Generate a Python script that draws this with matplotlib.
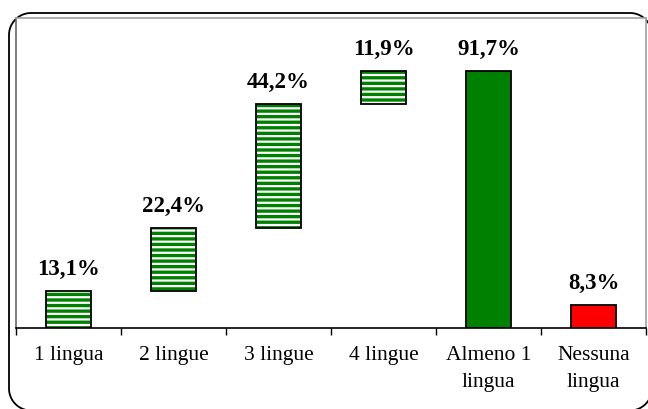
import numpy as np
import matplotlib
matplotlib.use("Agg")
import matplotlib.pyplot as plt
from matplotlib.lines import Line2D

categories = ["1 lingua", "2 lingue", "3 lingue", "4 lingue", "Almeno 1\nlingua", "Nessuna\nlingua"]
steps = [13.1, 22.4, 44.2, 11.9]          # languages known: stacked steps
total_at_least_one = 91.7
none_value = 8.3
value_labels = ["13,1%", "22,4%", "44,2%", "11,9%", "91,7%", "8,3%"]

GREEN = "#008000"
RED = "#FF0000"

plt.rcParams["font.family"] = ["Liberation Serif", "DejaVu Serif"]
plt.rcParams["hatch.linewidth"] = 1.6

fig = plt.figure(figsize=(6.48, 4.09), dpi=100)
ax = fig.add_axes([16 / 648, 1 - 328 / 409, 630 / 648, 310 / 409])

x = np.arange(len(categories))
width = 0.43

bottoms = np.concatenate([[0], np.cumsum(steps)[:-1]])
# striped step bars: green fill with white horizontal stripes
ax.bar(x[:4], steps, width, bottom=bottoms, color=GREEN, edgecolor="white",
       hatch="---", linewidth=0, zorder=2)
ax.bar(x[:4], steps, width, bottom=bottoms, facecolor="none", edgecolor="black",
       linewidth=1.3, zorder=3)
# total and remainder
ax.bar(x[4], total_at_least_one, width, color=GREEN, edgecolor="black", linewidth=1.3, zorder=3)
ax.bar(x[5], none_value, width, color=RED, edgecolor="black", linewidth=1.3, zorder=3)

tops = list(bottoms + np.array(steps)) + [total_at_least_one, none_value]
for xi, top, lab in zip(x, tops, value_labels):
    ax.annotate(lab, (xi, top), xytext=(0, 8), textcoords="offset points",
                ha="center", va="bottom", fontsize=16.5, fontweight="bold")

ax.set_xlim(-0.5, len(categories) - 0.5)
ax.set_ylim(0, 110.5)
ax.set_yticks([])

ax.set_xticks(np.arange(-0.5, len(categories)), labels=[""] * (len(categories) + 1))
ax.set_xticks(x, labels=categories, minor=True)
ax.tick_params(axis="x", which="major", length=5, width=1, color="black", direction="out")
ax.tick_params(axis="x", which="minor", length=0, pad=13, labelsize=15.5)
for lbl in ax.get_xticklabels(minor=True):
    lbl.set_linespacing(1.55)
    lbl.set_verticalalignment("top")

ax.spines["bottom"].set_color("black")
ax.spines["bottom"].set_linewidth(1.2)
ax.spines["left"].set_color("#666666")
ax.spines["top"].set_color("#a0a0a0")
ax.spines["right"].set_color("#a0a0a0")
for s in ["left", "top", "right"]:
    ax.spines[s].set_linewidth(1.2)


def rounded_rect(x0, y0, x1, y1, r, n=24):
    """Closed polyline of a rounded rectangle (corner arcs as line segments)."""
    pts = []
    corners = [(x1 - r, y0 + r, -90), (x1 - r, y1 - r, 0),
               (x0 + r, y1 - r, 90), (x0 + r, y0 + r, 180)]
    for cx, cy, start in corners:
        a = np.radians(np.linspace(start, start + 90, n))
        pts.extend(zip(cx + r * np.cos(a), cy + r * np.sin(a)))
    pts.append(pts[0])
    return np.array(pts)


# rounded outer frame, laid out in inches
fr = rounded_rect(0.09, -0.015, 6.52, 3.96, 0.22)
fig.add_artist(Line2D(fr[:, 0], fr[:, 1], transform=fig.dpi_scale_trans,
                      color="black", linewidth=1.3, zorder=0))

fig.savefig("out.png", dpi=100)
